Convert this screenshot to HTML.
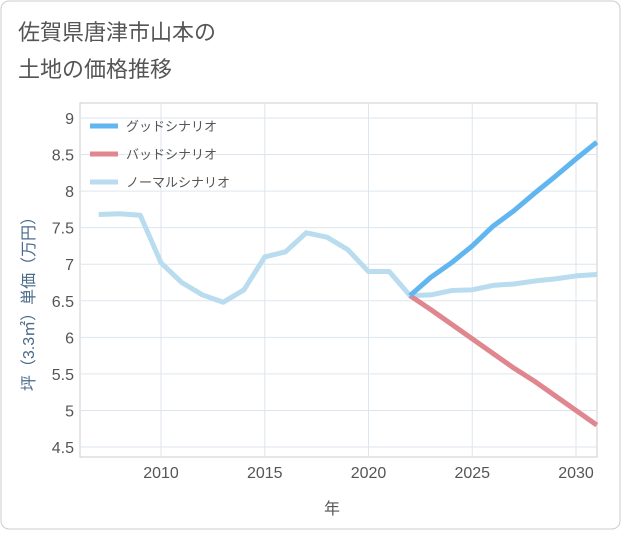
<!DOCTYPE html>
<html><head><meta charset="utf-8"><style>
body{margin:0;background:#fff}
#c{position:relative;width:621px;height:530px;font-family:"Liberation Sans","Noto Sans CJK JP",sans-serif}
</style></head><body>
<div id="c">
<svg id="s" width="621" height="530" xmlns="http://www.w3.org/2000/svg">
<rect x="1" y="1" width="619" height="528" rx="8" fill="#fff" stroke="#ccc"/>
<text x="18" y="40" font-size="22" fill="#555">佐賀県唐津市山本の</text>
<text x="18" y="77" font-size="22" fill="#555">土地の価格推移</text>
<g id="grid"></g><g id="lines"></g><g id="legend"></g>
<text x="332" y="514" font-size="16" fill="#555" text-anchor="middle">年</text>
<text transform="translate(34,300) rotate(-90)" font-size="16" fill="#4a6a8a" text-anchor="middle">坪（3.3㎡）単価（万円）</text>
</svg></div>
<script>
const years=[2007,2008,2009,2010,2011,2012,2013,2014,2015,2016,2017,2018,2019,2020,2021,2022,2023,2024,2025,2026,2027,2028,2029,2030,2031];
const normal=[7.68,7.69,7.67,7.02,6.75,6.58,6.48,6.65,7.1,7.17,7.43,7.37,7.2,6.9,6.9,6.57,6.58,6.64,6.65,6.71,6.73,6.77,6.8,6.84,6.86];
const goodYears=[2022,2023,2024,2025,2026,2027,2028,2029,2030,2031];
const good=[6.57,6.82,7.02,7.25,7.52,7.73,7.97,8.2,8.44,8.67];
const bad=[6.57,6.38,6.18,5.98,5.78,5.58,5.4,5.2,5.0,4.8];
const yTicks=[4.5,5,5.5,6,6.5,7,7.5,8,8.5,9];
const xTicks=[2010,2015,2020,2025,2030];
const NS="http://www.w3.org/2000/svg";
const X0=80,X1=597,Y0=103,Y1=457;
const xs=v=>161+(v-2010)*20.75;
const ys=v=>447-(v-4.5)*73.11;
function mk(t,a,p){const e=document.createElementNS(NS,t);for(const k in a)e.setAttribute(k,a[k]);p.appendChild(e);return e;}
const g=document.getElementById('grid');
mk('rect',{x:X0,y:Y0,width:X1-X0,height:Y1-Y0,fill:'none',stroke:'#ccc'},g);
yTicks.forEach(v=>{const l=mk('line',{x1:X0,x2:X1,y1:ys(v),y2:ys(v),stroke:'#dde6ee'},g);


const t=mk('text',{x:74,y:ys(v)+6,'font-size':16,fill:'#555','text-anchor':'end'},g);t.textContent=v;

});
xTicks.forEach(v=>{const l=mk('line',{x1:xs(v),x2:xs(v),y1:Y0,y2:Y1,stroke:'#dde6ee'},g);


const t=mk('text',{x:xs(v),y:478,'font-size':16,fill:'#555','text-anchor':'middle'},g);t.textContent=v;

});
const L=document.getElementById('lines');
function line(xv,yv,col,name){const p=mk('polyline',{points:xv.map((x,i)=>xs(x)+','+ys(yv[i])).join(' '),fill:'none',stroke:col,'stroke-width':5,'stroke-linejoin':'round'},L);

}
line(years,normal,'#b9dcef','normal-scenario-line');
line(goodYears,bad,'#e0868e','bad-scenario-line');
line(goodYears,good,'#62b6f0','good-scenario-line');
const lg=document.getElementById('legend');
[['グッドシナリオ','#62b6f0'],['バッドシナリオ','#e0868e'],['ノーマルシナリオ','#b9dcef']].forEach((d,i)=>{
const y=126+i*28;
const l=mk('line',{x1:90,x2:118,y1:y,y2:y,stroke:d[1],'stroke-width':5},lg);


const t=mk('text',{x:126,y:y+5,'font-size':13,fill:'#555'},lg);t.textContent=d[0];

});
</script>
</body></html>
